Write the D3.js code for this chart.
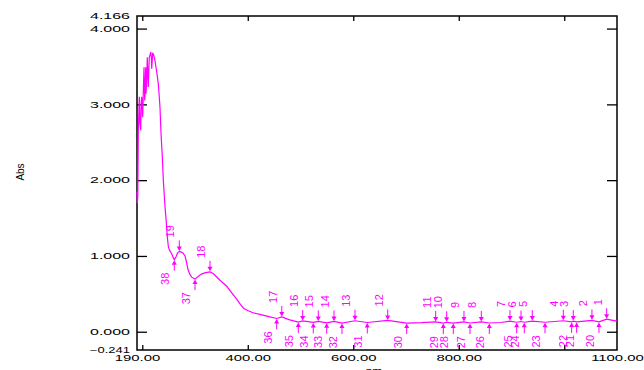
<!DOCTYPE html>
<html>
<head>
<meta charset="utf-8">
<script src="https://cdn.jsdelivr.net/npm/d3@7"></script>
<style>
  html, body { margin: 0; padding: 0; background: #fff; }
  svg { display: block; }
</style>
</head>
<body>
<div id="chart"></div>
<script>
// spectrum
const wavelength = [190, 190.5, 191.5, 192.5, 193.5, 194.4, 195.5, 197, 198, 198.9, 200.8, 202, 203.3, 204.6, 205.5, 206.5, 207.1, 208.5, 209.5, 211.4,
  213.3, 215, 216, 217.2, 217.9, 219.8, 222.2, 224, 226, 228, 230.4, 232, 233.6, 235.5, 238, 239.9, 243.1, 245.5, 247.5, 249.5,
  252, 255.8, 258, 260.7, 264, 267, 270.2, 274, 277.2, 281, 283.5, 286.7, 290, 293.7, 300, 306, 312, 320, 328.4, 335,
  347.3, 360, 370, 379, 386, 392, 400, 410, 423, 440, 454.8, 464.5, 478, 495.8, 504.1, 524.2, 533.7, 549.6, 563.5, 578.6,
  603.3, 626.6, 665.3, 701.3, 730, 756.2, 770.7, 777.1, 789.6, 809.9, 821.3, 842.7, 857.9, 880, 897.1, 909.8, 918, 924.2, 939.4, 963.5,
  998.2, 1014, 1017.1, 1023.5, 1052.5, 1065.8, 1080.4, 1092, 1100];
const absorbance = [1.85, 1.70, 1.78, 2.66, 2.90, 3.10, 2.75, 2.66, 3.02, 3.10, 2.83, 3.18, 3.49, 3.05, 3.18, 3.49, 3.14, 3.35, 3.62, 3.23,
  3.62, 3.66, 3.69, 3.62, 3.47, 3.68, 3.64, 3.58, 3.49, 3.40, 3.27, 3.12, 2.96, 2.62, 2.31, 2.00, 1.65, 1.45, 1.25, 1.12,
  1.07, 1.03, 0.99, 0.95, 0.99, 1.04, 1.06, 1.05, 1.04, 1.00, 0.93, 0.82, 0.76, 0.72, 0.695, 0.73, 0.76, 0.78, 0.79, 0.765,
  0.68, 0.60, 0.51, 0.43, 0.36, 0.31, 0.28, 0.25, 0.23, 0.20, 0.175, 0.195, 0.16, 0.128, 0.142, 0.123, 0.136, 0.118, 0.136, 0.114,
  0.145, 0.122, 0.149, 0.114, 0.12, 0.13, 0.114, 0.125, 0.114, 0.13, 0.115, 0.13, 0.115, 0.122, 0.14, 0.125, 0.135, 0.125, 0.14, 0.125,
  0.145, 0.13, 0.14, 0.13, 0.15, 0.13, 0.165, 0.15, 0.14];

// peak / valley picks (numbered as in the instrument printout)
const peakIds = [1, 2, 3, 4, 5, 6, 7, 8, 9, 10, 11, 12, 13, 14, 15, 16, 17, 18, 19];
const peakNm = [1080.4, 1052.5, 1017.1, 998.2, 939.4, 918, 897.1, 842.7, 809.9, 777.1, 756.2, 665.3, 603.3, 563.5, 533.7, 504.1, 464.5, 328.4, 270.2];
const valleyIds = [20, 21, 22, 23, 24, 25, 26, 27, 28, 29, 30, 31, 32, 33, 34, 35, 36, 37, 38];
const valleyNm = [1065.8, 1023.5, 1014, 963.5, 924.2, 909.8, 857.9, 821.3, 789.6, 770.7, 701.3, 626.6, 578.6, 549.6, 524.2, 495.8, 454.8, 300, 260.7];

const xTicks = [200, 400, 600, 800, 1000];
const xLabels = [190, 400, 600, 800, 1100];
const yTicks = [0, 1, 2, 3, 4];
const yLabels = [-0.241, 0, 1, 2, 3, 4, 4.166];

const width = 644, height = 370;
const margin = { top: 16, right: 27, bottom: 20, left: 137 };
const innerW = width - margin.left - margin.right;
const innerH = height - margin.top - margin.bottom;
const pink = '#ff00ff';

const svg = d3.select('#chart').append('svg').attr('width', width).attr('height', height);
const g = svg.append('g').attr('transform', `translate(${margin.left},${margin.top})`);

const x = d3.scaleLinear().domain([190, 1100]).range([0, innerW]);
const y = d3.scaleLinear().domain([-0.241, 4.166]).range([innerH, 0]);

const points = wavelength.map((w, i) => ({ w, a: absorbance[i] }));
const absAt = w => absorbance[wavelength.indexOf(w)];

// the printout uses wide, stretched digits
function stretch(sel, k) {
  sel.each(function() {
    const len = this.getComputedTextLength();
    d3.select(this).attr('textLength', len * k).attr('lengthAdjust', 'spacingAndGlyphs');
  });
}
const tickFont = sel => sel.attr('font-family', '"Liberation Sans", Arial, sans-serif').attr('font-size', 8.5).attr('fill', '#000');

// tick marks, all pointing inward
g.append('g').attr('transform', `translate(0,${innerH})`)
  .call(d3.axisBottom(x).tickValues(xTicks).tickSize(-5).tickFormat(''))
  .call(a => a.select('.domain').remove());
g.append('g')
  .call(d3.axisTop(x).tickValues(xTicks).tickSize(-5).tickFormat(''))
  .call(a => a.select('.domain').remove());
g.append('g')
  .call(d3.axisLeft(y).tickValues(yTicks).tickSize(-10).tickFormat(''))
  .call(a => a.select('.domain').remove());
g.append('g').attr('transform', `translate(${innerW},0)`)
  .call(d3.axisRight(y).tickValues(yTicks).tickSize(-10).tickFormat(''))
  .call(a => a.select('.domain').remove());
g.selectAll('.tick line').attr('stroke', '#000').attr('stroke-width', 1.3);

// tick labels
const xl = g.append('g').attr('transform', `translate(0,${innerH})`)
  .call(d3.axisBottom(x).tickValues(xLabels).tickSize(0).tickPadding(5).tickFormat(d3.format('.2f')));
xl.select('.domain').remove();
xl.selectAll('text').call(tickFont).call(stretch, 1.75);

const yl = g.append('g')
  .call(d3.axisLeft(y).tickValues(yLabels).tickSize(0).tickPadding(7).tickFormat(d3.format('.3f')));
yl.select('.domain').remove();
yl.selectAll('text').call(tickFont)
  .attr('textLength', 40).attr('lengthAdjust', 'spacingAndGlyphs');

// frame
g.append('rect').attr('width', innerW).attr('height', innerH)
  .attr('fill', 'none').attr('stroke', '#000').attr('stroke-width', 1.5);

// axis titles
svg.append('text').attr('x', margin.left + innerW / 2 - 3).attr('y', height + 6)
  .attr('text-anchor', 'middle').attr('font-family', '"Liberation Sans", Arial, sans-serif')
  .attr('font-size', 12).text('nm');
svg.append('text').attr('transform', `translate(24,172) rotate(-90)`)
  .attr('text-anchor', 'middle').attr('font-family', '"Liberation Sans Narrow", "Liberation Sans", Arial, sans-serif')
  .attr('font-size', 10).text('Abs');

// spectrum
const line = d3.line().x(d => x(d.w)).y(d => y(d.a));
g.append('path').datum(points)
  .attr('fill', 'none').attr('stroke', pink).attr('stroke-width', 1.2).attr('d', line);

// pick arrows and labels
function picks(ids, nms, dir) {
  // dir = 1 for peaks (arrow from above), -1 for valleys (arrow from below)
  const items = ids.map((id, i) => ({ id, w: nms[i], a: absAt(nms[i]) }))
    .sort((p, q) => p.w - q.w);
  let prev = -Infinity;
  items.forEach(d => {
    d.px = x(d.w);
    d.py = y(d.a);
    d.lx = Math.max(d.px - 9, prev + 7.5);
    prev = d.lx;
  });
  const grp = g.append('g').attr('fill', pink).attr('stroke', pink);
  const it = grp.selectAll('g').data(items).join('g');
  it.append('line')
    .attr('x1', d => d.px).attr('x2', d => d.px)
    .attr('y1', d => d.py - dir * 11).attr('y2', d => d.py - dir * 2)
    .attr('stroke-width', 1);
  it.append('path')
    .attr('stroke', 'none')
    .attr('d', d => `M${d.px - 2.5},${d.py - dir * 5}L${d.px + 2.5},${d.py - dir * 5}L${d.px},${d.py - dir * 0.5}Z`);
  it.append('text')
    .attr('stroke', 'none')
    .attr('font-family', '"Liberation Sans Narrow", "Liberation Sans", Arial, sans-serif')
    .attr('font-size', 11)
    .attr('text-anchor', dir > 0 ? 'start' : 'end')
    .attr('transform', d => `translate(${d.lx + 4},${d.py - dir * (dir > 0 ? 14 : 13)}) rotate(-90)`)
    .text(d => d.id);
}
picks(peakIds, peakNm, 1);
picks(valleyIds, valleyNm, -1);
</script>
</body>
</html>
